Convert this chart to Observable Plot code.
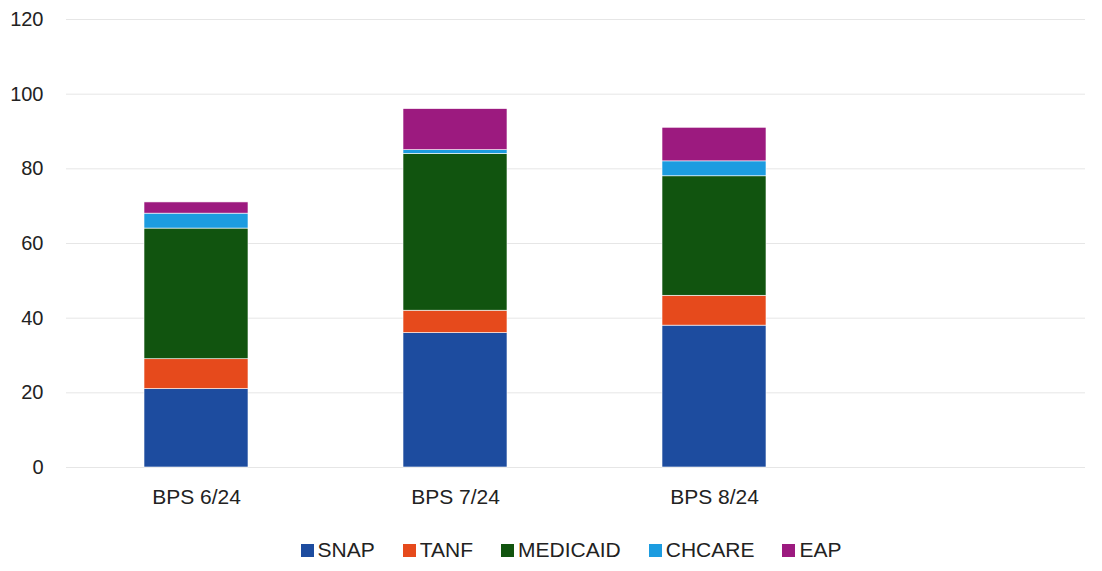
<!DOCTYPE html>
<html>
<head>
<meta charset="utf-8">
<script src="https://cdn.jsdelivr.net/npm/d3@7"></script>
<script src="https://cdn.jsdelivr.net/npm/@observablehq/plot@0.6"></script>
<style>
  html, body { margin: 0; padding: 0; background: #fff; }
  body { width: 1102px; height: 571px; overflow: hidden; font-family: "Liberation Sans", Arial, sans-serif; }
  #legend { display: flex; justify-content: center; align-items: center; gap: 28px; font-size: 21px; color: #222; margin-top: 18px; padding-left: 40px; line-height: 24px; }
  #legend .item { display: flex; align-items: center; }
  #legend .sw { width: 13px; height: 13px; margin-right: 4px; display: inline-block; }
</style>
</head>
<body>
<div id="chart"></div>
<div id="legend"></div>
<script>
const categories = ["BPS 6/24", "BPS 7/24", "BPS 8/24"];
const seriesNames = ["SNAP", "TANF", "MEDICAID", "CHCARE", "EAP"];
const SNAP = [21, 36, 38];
const TANF = [8, 6, 8];
const MEDICAID = [35, 42, 32];
const CHCARE = [4, 1, 4];
const EAP = [3, 11, 9];
const yTicks = [0, 20, 40, 60, 80, 100, 120];
const colors = ["#1d4c9f", "#e64a1c", "#11540f", "#1c9ce0", "#9c1a7f"];

const seriesValues = [SNAP, TANF, MEDICAID, CHCARE, EAP];
const data = [];
seriesNames.forEach((s, i) => categories.forEach((c, j) => data.push({category: c, series: s, value: seriesValues[i][j]})));

const xDomain = [...categories, " "];

const chart = Plot.plot({
  width: 1102,
  height: 520,
  marginTop: 19,
  marginBottom: 53,
  marginLeft: 66,
  marginRight: 0,
  style: {fontFamily: "'Liberation Sans', Arial, sans-serif", fontSize: "20px", color: "#222"},
  x: {domain: xDomain, paddingInner: 0.6, paddingOuter: 0.3, align: 0.5, label: null},
  y: {domain: [0, 120], ticks: yTicks, label: null},
  color: {domain: seriesNames, range: colors},
  marks: [
    Plot.ruleY(yTicks, {stroke: "#e6e6e6", strokeWidth: 1, insetRight: 17}),
    Plot.barY(data, Plot.stackY({x: "category", y: "value", fill: "series", order: seriesNames, stroke: "#fff", strokeWidth: 0.6})),
    Plot.axisX({tickSize: 0, tickPadding: 22, fontSize: 21, tickFormat: d => d.trim()}),
    Plot.axisY({ticks: yTicks, tickSize: 0, tickPadding: 23, fontSize: 20})
  ]
});
document.getElementById("chart").appendChild(chart);

const legend = document.getElementById("legend");
seriesNames.forEach((s, i) => {
  const it = document.createElement("span");
  it.className = "item";
  const sw = document.createElement("span");
  sw.className = "sw";
  sw.style.background = colors[i];
  it.appendChild(sw);
  it.appendChild(document.createTextNode(s));
  legend.appendChild(it);
});
</script>
</body>
</html>
